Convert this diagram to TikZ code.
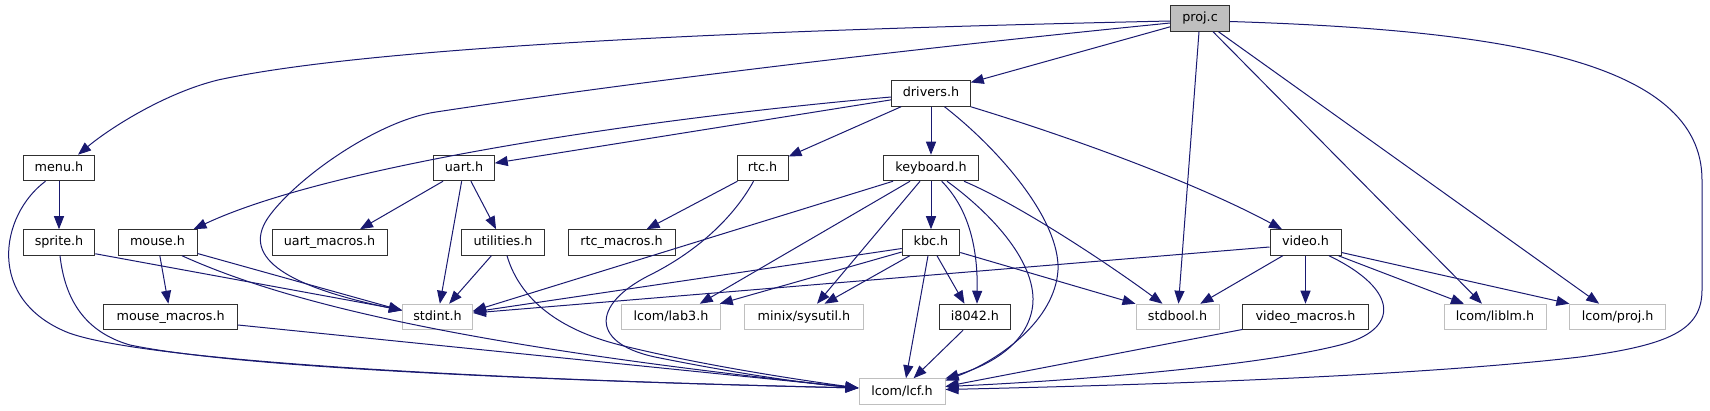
\documentclass[tikz,border=0pt]{standalone}
\usepackage{fontspec}
\setmainfont{DejaVu Sans}
\usetikzlibrary{arrows.meta,calc}
\definecolor{edgecol}{HTML}{191970}
\definecolor{greyfill}{HTML}{BFBFBF}
\definecolor{boxline}{HTML}{303030}
\begin{document}
\begin{tikzpicture}[x=1pt,y=-1pt,
  base/.style={rectangle, inner sep=0pt, minimum height=25.5pt, line width=1pt,
    font=\fontsize{12.75}{15}\selectfont, text height=10pt, text depth=3pt},
  hbox/.style={base, draw=boxline, fill=white},
  xbox/.style={base, draw=greyfill, fill=white},
  root/.style={base, draw=boxline, fill=greyfill},
  dep/.style={draw=edgecol, line width=1pt, -{Triangle[length=13pt,width=10pt]}}
]
\useasboundingbox (0,0) rectangle (1710,411);

\node[root, minimum width=58.5pt] (projc) at (1200,18.5) {proj.c};
\node[hbox, minimum width=78.5pt] (drivers) at (931,93.5) {drivers.h};
\node[hbox, minimum width=71.5pt] (menu) at (59,168) {menu.h};
\node[hbox, minimum width=60.5pt] (uart) at (464,168) {uart.h};
\node[hbox, minimum width=51pt] (rtc) at (762.5,168) {rtc.h};
\node[hbox, minimum width=95pt] (keyboard) at (931,168) {keyboard.h};
\node[hbox, minimum width=71.5pt] (sprite) at (59,242.5) {sprite.h};
\node[hbox, minimum width=79pt] (mouse) at (157.5,242.5) {mouse.h};
\node[hbox, minimum width=115pt] (uartm) at (329.5,242.5) {uart\_macros.h};
\node[hbox, minimum width=83pt] (util) at (503,242.5) {utilities.h};
\node[hbox, minimum width=107pt] (rtcm) at (621.5,242.5) {rtc\_macros.h};
\node[hbox, minimum width=57.5pt] (kbc) at (931,242.5) {kbc.h};
\node[hbox, minimum width=71pt] (video) at (1305.5,242.5) {video.h};
\node[hbox, minimum width=133.5pt] (mousem) at (170.7,317) {mouse\_macros.h};
\node[xbox, minimum width=70pt] (stdint) at (437.5,317) {stdint.h};
\node[xbox, minimum width=98.5pt] (lab3) at (671,317) {lcom/lab3.h};
\node[xbox, minimum width=118.5pt] (sysutil) at (804,317) {minix/sysutil.h};
\node[hbox, minimum width=71pt] (i8042) at (975,317) {i8042.h};
\node[xbox, minimum width=83pt] (stdbool) at (1177.5,317) {stdbool.h};
\node[hbox, minimum width=125.5pt] (videom) at (1305.5,317) {video\_macros.h};
\node[xbox, minimum width=102pt] (liblm) at (1495,317) {lcom/liblm.h};
\node[xbox, minimum width=95.5pt] (projh) at (1617.7,317) {lcom/proj.h};
\node[xbox, minimum width=86pt] (lcf) at (902,391.5) {lcom/lcf.h};

% proj.c
\draw[dep] ($(projc.west)+(0,2.5)$) .. controls (900,27) and (400,40) .. (218,80) .. controls (165,93) and (110,128) .. ($(menu.north)+(19,0)$);
\draw[dep] ($(projc.west)+(0,4.5)$) .. controls (1000,40) and (700,72) .. (436,112) .. controls (380,120) and (300,175) .. (270,215) .. controls (240,255) and (280,285) .. ($(stdint.west)+(0,-6.5)$);
\draw[dep] (projc) -- (drivers);
\draw[dep] (projc) -- (stdbool);
\draw[dep] (projc) -- (liblm);
\draw[dep] (projc) -- (projh);
\draw[dep] ($(projc.east)+(0,3)$) .. controls (1500,30) and (1702,60) .. (1702,180) -- (1702,290) .. controls (1702,330) and (1670,345) .. (1580,357) .. controls (1400,378) and (1100,386) .. ($(lcf.east)+(0,-2)$);

% menu / sprite
\draw[dep] (menu) -- (sprite);
\draw[dep] ($(menu.south)+(-13.5,0)$) .. controls (0,215) and (-15,300) .. (69,333) .. controls (150,362) and (500,380) .. ($(lcf.west)+(0,-3.5)$);
\draw[dep] ($(sprite.south east)+(0,-2)$) -- ($(stdint.west)+(0,-7)$);
\draw[dep] ($(sprite.south)+(1,0)$) .. controls (65,300) and (85,332) .. (130,345) .. controls (250,370) and (600,382) .. ($(lcf.west)+(0,-3.5)$);

% drivers
\draw[dep] (drivers) -- (uart);
\draw[dep] ($(drivers.west)+(0,3.5)$) .. controls (650,118) and (330,165) .. ($(mouse.north east)+(-4,0)$);
\draw[dep] (drivers) -- (rtc);
\draw[dep] (drivers) -- (keyboard);
\draw[dep] ($(drivers.south)+(13.5,0)$) .. controls (1000,150) and (1060,220) .. (1058,270) .. controls (1055,320) and (1000,360) .. ($(lcf.east)+(0,-11)$);
\draw[dep] (drivers.south east) .. controls (1080,140) and (1200,185) .. ($(video.north)+(-23.5,0)$);

% keyboard
\draw[dep] (keyboard) -- (kbc);
\draw[dep] ($(keyboard.south)+(-38,0)$) -- ($(stdint.east)+(0,-6)$);
\draw[dep] ($(keyboard.south)+(-21,0)$) -- ($(lab3.north east)+(-21,0)$);
\draw[dep] ($(keyboard.south)+(-11,0)$) -- ($(sysutil.north)+(13,0)$);
\draw[dep] ($(keyboard.south)+(10.7,0)$) .. controls (965,205) and (978,240) .. ($(i8042.north)+(2,0)$);
\draw[dep] ($(keyboard.south)+(16,0)$) .. controls (1000,220) and (1040,270) .. (1032,310) .. controls (1025,345) and (990,365) .. ($(lcf.east)+(0,-13)$);
\draw[dep] ($(keyboard.south east)+(-15,0)$) .. controls (1020,205) and (1110,265) .. ($(stdbool.north west)+(27,0)$);

% kbc
\draw[dep] ($(kbc.west)+(0,6)$) -- ($(stdint.east)+(0,-5)$);
\draw[dep] ($(kbc.west)+(0,9.5)$) -- ($(lab3.north east)+(-1,0)$);
\draw[dep] ($(kbc.south west)+(8,0)$) -- ($(sysutil.north)+(20.5,0)$);
\draw[dep] ($(kbc.south)+(6,0)$) -- ($(i8042.north)+(-10.5,0)$);
\draw[dep] ($(kbc.south)+(-3,0)$) -- ($(lcf.north)+(4,0)$);
\draw[dep] ($(kbc.east)+(0,10)$) -- (stdbool.north west);
\draw[dep] ($(i8042.south)+(-12,0)$) -- ($(lcf.north)+(11.6,0)$);

% video
\draw[dep] ($(video.west)+(0,4.5)$) -- ($(stdint.east)+(0,-4)$);
\draw[dep] (video) -- (stdbool);
\draw[dep] (video) -- (videom);
\draw[dep] ($(video.south)+(23.5,0)$) .. controls (1400,290) and (1400,330) .. (1340,345) .. controls (1250,368) and (1050,382) .. ($(lcf.east)+(0,-5)$);
\draw[dep] ($(video.south east)+(-3,0)$) -- ($(liblm.north)+(-31,0)$);
\draw[dep] ($(video.east)+(0,10)$) -- (projh.north west);
\draw[dep] ($(videom.west)+(0,12.5)$) -- ($(lcf.east)+(0,-5)$);

% uart / utilities
\draw[dep] ($(uart.south)+(-21,0)$) -- ($(uartm.north)+(30.5,0)$);
\draw[dep] (uart) -- (stdint);
\draw[dep] (uart) -- (util);
\draw[dep] (util) -- (stdint);
\draw[dep] ($(util.south)+(4,0)$) .. controls (520,300) and (560,330) .. (620,345) .. controls (700,365) and (800,380) .. ($(lcf.west)+(0,-3.5)$);

% rtc
\draw[dep] (rtc) -- (rtcm);
\draw[dep] ($(rtc.south)+(-9,0)$) .. controls (735,215) and (700,250) .. (650,275) .. controls (590,305) and (590,345) .. (660,358) .. controls (730,372) and (800,383) .. ($(lcf.west)+(0,-3.5)$);

% mouse
\draw[dep] (mouse) -- (mousem);
\draw[dep] ($(mouse.east)+(0,11)$) -- ($(stdint.west)+(0,-6.5)$);
\draw[dep] ($(mouse.south)+(24.5,0)$) .. controls (280,300) and (450,345) .. ($(lcf.west)+(0,-3.5)$);
\draw[dep] ($(mousem.east)+(0,8)$) -- ($(lcf.west)+(0,-3.5)$);
\end{tikzpicture}
\end{document}
